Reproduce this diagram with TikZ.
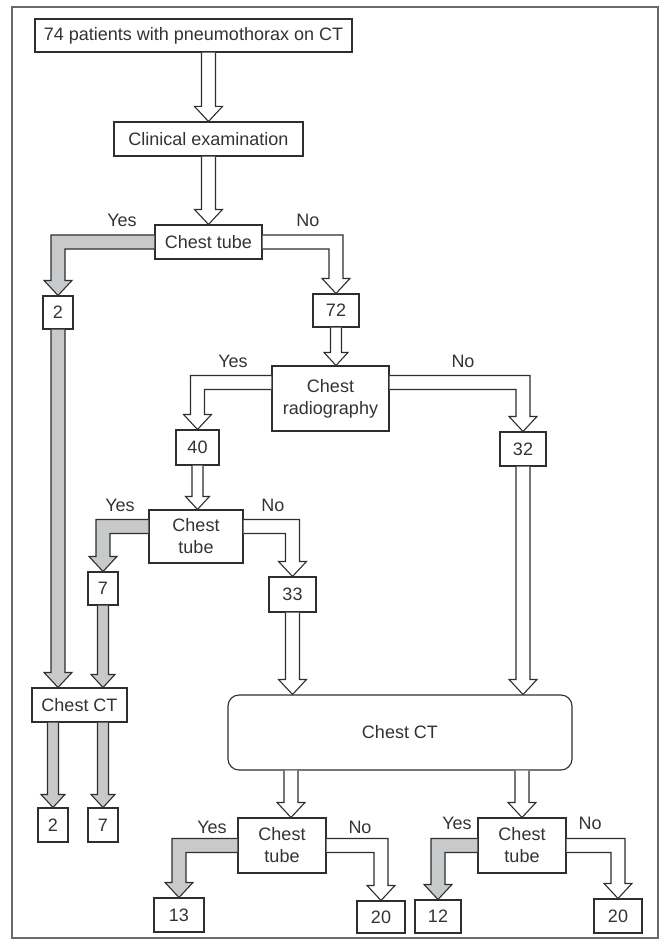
\documentclass[tikz,border=0pt]{standalone}
\usepackage{fontspec}
\setmainfont{Liberation Sans}
\usetikzlibrary{calc}
\definecolor{kline}{HTML}{2E2E2E}
\definecolor{ktext}{HTML}{333333}
\definecolor{kfill}{HTML}{C8C9CB}
\definecolor{kframe}{HTML}{6A6A6A}

\def\aw{7pt}\def\ah{14pt}\def\al{15pt}
% straight fat arrow: x taken from the source, tip on the target
\newcommand\fatdown[3][]{%
  \draw[fat,#1] let \p1=(#2), \p2=(#3) in
    ({\x1-\aw},\y1) -- ({\x1-\aw},{\y2+\al}) -- ({\x1-\ah},{\y2+\al}) -- (\x1,\y2)
    -- ({\x1+\ah},{\y2+\al}) -- ({\x1+\aw},{\y2+\al}) -- ({\x1+\aw},\y1);}
% bent fat arrow, #2 = -1 (to the left) or 1 (to the right)
\newcommand\fatturn[4][]{%
  \draw[fat,#1] let \p1=(#3), \p2=(#4) in
    (\x1,{\y1+\aw}) -- ({\x2+(#2)*\aw},{\y1+\aw}) -- ({\x2+(#2)*\aw},{\y2+\al})
    -- ({\x2+(#2)*\ah},{\y2+\al}) -- (\x2,\y2) -- ({\x2-(#2)*\ah},{\y2+\al})
    -- ({\x2-(#2)*\aw},{\y2+\al}) -- ({\x2-(#2)*\aw},{\y1-\aw}) -- (\x1,{\y1-\aw});}

\begin{document}
\begin{tikzpicture}[x=1pt, y=-1pt, font=\fontsize{18}{22}\selectfont, text=ktext,
  box/.style={draw=kline, line width=1.1pt, fill=white, inner sep=0pt, align=center},
  fat/.style={draw=kline, line width=1.1pt, line join=miter, fill=white},
  yes/.style={fill=kfill},
  slim/.style={/utils/exec={\def\aw{5.5pt}\def\ah{12pt}\def\al{13pt}}},
  lbl/.style={inner sep=0pt}]
\useasboundingbox (0,0) rectangle (665,944);
\draw[kframe, line width=1.5pt] (12,7) rectangle (658,938);

\node[box, minimum width=317pt, minimum height=33pt] (pat) at (193.5,35.5) {74 patients with pneumothorax on CT};
\node[box, minimum width=189pt, minimum height=34pt] (clin) at (208.5,139) {Clinical examination};
\node[box, minimum width=107pt, minimum height=34pt] (tubeA) at (208.5,242) {Chest tube};
\node[box, minimum width=30pt, minimum height=33pt] (nA2) at (58,312.5) {2};
\node[box, minimum width=46pt, minimum height=33pt] (nA72) at (336,310.5) {72};
\node[box, minimum width=117pt, minimum height=65pt] (radio) at (330.5,398.5) {Chest\\radiography};
\node[box, minimum width=43pt, minimum height=35pt] (nB40) at (197.5,447.5) {40};
\node[box, minimum width=46pt, minimum height=34pt] (nB32) at (523,449) {32};
\node[box, minimum width=94pt, minimum height=53pt] (tubeB) at (196,536.5) {Chest\\tube};
\node[box, minimum width=30pt, minimum height=33pt] (nC7) at (103,588.5) {7};
\node[box, minimum width=47pt, minimum height=35pt] (nC33) at (292.5,594.5) {33};
\node[box, minimum width=95pt, minimum height=34pt] (ctS) at (79.5,705) {Chest CT};
\node[box, rounded corners=11pt, minimum width=344pt, minimum height=75pt] (ctL) at (400,732.5) {Chest CT};
\node[box, minimum width=30pt, minimum height=34pt] (nD2) at (53,825) {2};
\node[box, minimum width=30pt, minimum height=34pt] (nD7) at (103,825) {7};
\node[box, minimum width=88pt, minimum height=55pt] (tubeC) at (282,845.5) {Chest\\tube};
\node[box, minimum width=88pt, minimum height=55pt] (tubeD) at (522,845.5) {Chest\\tube};
\node[box, minimum width=50pt, minimum height=34pt] (nE13) at (179,915) {13};
\node[box, minimum width=48pt, minimum height=32pt] (nE20) at (381,917) {20};
\node[box, minimum width=46pt, minimum height=33pt] (nF12) at (438,916.5) {12};
\node[box, minimum width=48pt, minimum height=34pt] (nF20) at (618,916) {20};

\node[lbl] (yA) at (122,220) {Yes};
\node[lbl] (oA) at (308,220) {No};
\node[lbl] (yB) at (233,361) {Yes};
\node[lbl] (oB) at (463,361) {No};
\node[lbl] (yC) at (120,505) {Yes};
\node[lbl] (oC) at (273,505) {No};
\node[lbl] (yD) at (212,827) {Yes};
\node[lbl] (oD) at (360,827) {No};
\node[lbl] (yE) at (457,823) {Yes};
\node[lbl] (oE) at (590,823) {No};

\fatdown{pat.south -| clin.north}{clin.north}
\fatdown{clin.south}{tubeA.north}
\fatturn[yes]{-1}{tubeA.west}{nA2.north}
\fatturn{1}{tubeA.east}{nA72.north}
\fatdown[slim]{nA72.south}{radio.north}
\fatturn{-1}{[yshift=16pt]radio.west}{nB40.north}
\fatturn{1}{[yshift=16pt]radio.east}{nB32.north}
\fatdown[slim]{nB40.south}{tubeB.north}
\fatturn[yes]{-1}{[yshift=10pt]tubeB.west}{nC7.north}
\fatturn{1}{[yshift=10pt]tubeB.east}{nC33.north}
\fatdown[yes]{nA2.south}{ctS.north}
\fatdown[yes,slim]{nC7.south}{ctS.north}
\fatdown[yes,slim]{ctS.south -| nD2.north}{nD2.north}
\fatdown[yes,slim]{ctS.south -| nD7.north}{nD7.north}
\fatdown{nC33.south}{ctL.north}
\fatdown{nB32.south}{ctL.north}
\fatdown{[xshift=9pt]tubeC.north |- ctL.south}{tubeC.north}
\fatdown{ctL.south -| tubeD.north}{tubeD.north}
\fatturn[yes]{-1}{tubeC.west}{nE13.north}
\fatturn{1}{tubeC.east}{nE20.north}
\fatturn[yes]{-1}{tubeD.west}{nF12.north}
\fatturn{1}{tubeD.east}{nF20.north}
\end{tikzpicture}
\end{document}
